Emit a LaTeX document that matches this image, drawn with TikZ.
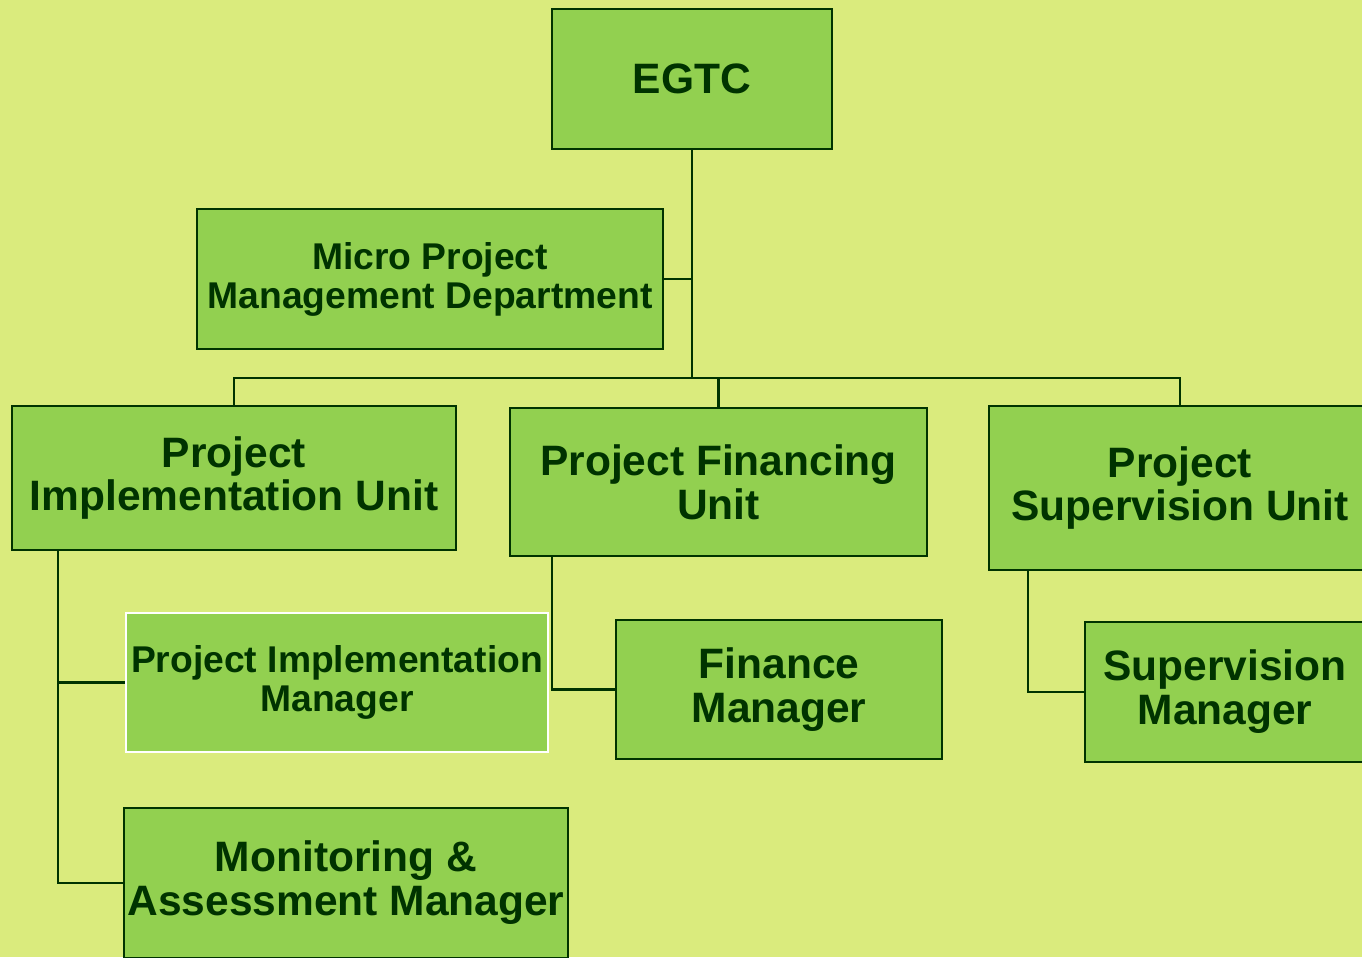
\documentclass[tikz,border=0pt]{standalone}
\usepackage{fontspec}
\setmainfont{Liberation Sans}
\usepackage{tikz}
\definecolor{bg}{RGB}{218,235,125}
\definecolor{boxgreen}{RGB}{146,208,80}
\definecolor{darkgreen}{RGB}{0,51,0}

\begin{document}
\begin{tikzpicture}[x=0.02cm,y=-0.02cm]
  \tikzstyle{box} = [rectangle, draw=darkgreen, line width=1.4pt, fill=boxgreen, text=darkgreen, align=center, inner sep=0pt, font=\bfseries\fontsize{24.2}{25}\selectfont]
  \tikzstyle{smallbox} = [box, font=\bfseries\fontsize{21.2}{22.2}\selectfont]
  \tikzstyle{link} = [draw=darkgreen, line width=1.4pt]
  \fill[bg] (0,0) rectangle (1362,957);
  \useasboundingbox (0,0) rectangle (1362,957);

  \node (EGTC) [box, minimum width=5.6cm, minimum height=2.8cm] at (692,79) {EGTC};
  \node (Micro) [smallbox, minimum width=9.32cm, minimum height=2.8cm] at (430,279) {Micro Project\\Management Department};
  \node (PIU) [box, minimum width=8.88cm, minimum height=2.88cm] at (234,478) {Project\\Implementation Unit};
  \node (PFU) [box, minimum width=8.34cm, minimum height=2.96cm] at (718.5,482) {Project Financing\\Unit};
  \node (PSU) [box, minimum width=7.64cm, minimum height=3.28cm] at (1180,488) {Project\\Supervision Unit};
  \node (PIM) [smallbox, draw=white, minimum width=8.44cm, minimum height=2.78cm] at (337,682.5) {Project Implementation\\Manager};
  \node (FM) [box, minimum width=6.52cm, minimum height=2.78cm] at (779,689.5) {Finance\\Manager};
  \node (SM) [box, minimum width=5.6cm, minimum height=2.8cm] at (1225,692) {Supervision\\Manager};
  \node (MAM) [box, minimum width=8.88cm, minimum height=3cm] at (346,883) {Monitoring \&\\Assessment Manager};

  \coordinate (bus) at (692,378);
  \coordinate (piuleg) at (58,550);
  \coordinate (pfuleg) at (552,556);
  \coordinate (psuleg) at (1028,570);

  \draw[link] (EGTC.south) -- (bus);
  \draw[link] (Micro.east) -- (Micro.east -| bus);
  \draw[link] (PIU.north) |- (bus) -| (PSU.north);
  \draw[link] (bus) -| (PFU.north);
  \draw[link] (piuleg) |- (PIM.west);
  \draw[link] (piuleg) |- (MAM.west);
  \draw[link] (pfuleg) |- (FM.west);
  \draw[link] (psuleg) |- (SM.west);
\end{tikzpicture}
\end{document}
